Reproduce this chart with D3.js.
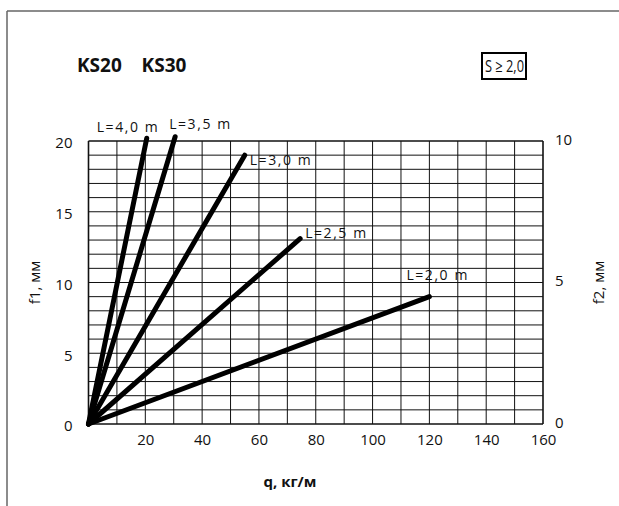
<!DOCTYPE html>
<html><head><meta charset="utf-8">
<script src="https://cdn.jsdelivr.net/npm/d3@7"></script>
<style>
body{margin:0;background:#fff;}
svg{display:block;}
text{font-family:"Open Sans","DejaVu Sans",sans-serif;fill:#111;}
</style></head><body>
<div id="chart"></div>
<script>
// ---- data ----
const seriesNames = ["L=4,0 m","L=3,5 m","L=3,0 m","L=2,5 m","L=2,0 m"];
const seriesEndQ  = [20.5, 30.5, 55, 74.5, 120];   // q, кг/м at line end
const seriesEndF1 = [20.2, 20.3, 19.0, 13.1, 9.0]; // f1, мм at line end
const xTicks  = [20,40,60,80,100,120,140,160];
const y1Ticks = [0,5,10,15,20];
const y2Ticks = [0,5,10];
const title = "KS20    KS30";
const boxLabel = "S \u2265 2,0";

const W = 619, H = 506;
const m = {left:88.5, right:543, top:141, bottom:424};

const svg = d3.select("#chart").append("svg").attr("width",W).attr("height",H);

const x  = d3.scaleLinear().domain([0,160]).range([m.left,m.right]);
const y1 = d3.scaleLinear().domain([0,20]).range([m.bottom,m.top]);
const y2 = d3.scaleLinear().domain([0,10]).range([m.bottom,m.top]);

// outer frame (top & left only)
svg.append("line").attr("x1",7).attr("x2",W).attr("y1",11).attr("y2",11).attr("stroke","#666").attr("stroke-width",1.5);
svg.append("line").attr("x1",7).attr("x2",7).attr("y1",11).attr("y2",H).attr("stroke","#666").attr("stroke-width",1.5);

// grid
const g = svg.append("g");
g.selectAll("line.v").data(d3.range(0,161,10)).join("line")
  .attr("x1",d=>x(d)).attr("x2",d=>x(d)).attr("y1",m.top).attr("y2",m.bottom)
  .attr("stroke","#111").attr("stroke-width",d=>(d===0||d===160)?1.6:1);
g.selectAll("line.h").data(d3.range(0,21,1)).join("line")
  .attr("x1",m.left).attr("x2",m.right).attr("y1",d=>y1(d)).attr("y2",d=>y1(d))
  .attr("stroke","#111").attr("stroke-width",d=>(d===0||d===20)?1.6:1);

// axes labels (ticks)
const xAxis = d3.axisBottom(x).tickValues(xTicks).tickSize(0).tickPadding(10);
const xa = svg.append("g").attr("transform",`translate(0,${m.bottom})`).call(xAxis);
xa.select(".domain").remove();
xa.selectAll("text").attr("font-size",15).attr("font-family","'Open Sans',sans-serif").attr("fill","#111");

const yAxisL = d3.axisLeft(y1).tickValues(y1Ticks).tickSize(0).tickPadding(16);
const yl = svg.append("g").attr("transform",`translate(${m.left},0)`).call(yAxisL);
yl.select(".domain").remove();
yl.selectAll("text").attr("font-size",15).attr("font-family","'Open Sans',sans-serif").attr("fill","#111").attr("dy","0.45em");

const yAxisR = d3.axisRight(y2).tickValues(y2Ticks).tickSize(0).tickPadding(12);
const yr = svg.append("g").attr("transform",`translate(${m.right},0)`).call(yAxisR);
yr.select(".domain").remove();
yr.selectAll("text").attr("font-size",15).attr("font-family","'Open Sans',sans-serif").attr("fill","#111").attr("dy","0.2em");

// series lines
const lineGen = d3.line().x(d=>x(d[0])).y(d=>y1(d[1]));
seriesNames.forEach((n,i)=>{
  svg.append("path").datum([[0,0],[seriesEndQ[i],seriesEndF1[i]]])
    .attr("d",lineGen).attr("fill","none").attr("stroke","#000")
    .attr("stroke-width",5).attr("stroke-linecap","round");
});

// series labels
const lblAnchor = [[-50,-6],[-6,-8],[5,10],[5,-1],[-23,-17]];
seriesNames.forEach((n,i)=>{
  svg.append("text").attr("x",x(seriesEndQ[i])+lblAnchor[i][0]).attr("y",y1(seriesEndF1[i])+lblAnchor[i][1])
    .attr("font-size",14).attr("font-family","'DejaVu Sans',sans-serif")
    .attr("textLength",61).attr("lengthAdjust","spacing").text(n);
});

// titles
svg.append("text").attr("x",77).attr("y",72).attr("font-size",19).attr("font-weight","bold")
  .attr("font-family","'Open Sans',sans-serif").attr("xml:space","preserve").style("white-space","pre").text(title);
svg.append("rect").attr("x",482).attr("y",53).attr("width",44).attr("height",26)
  .attr("fill","none").attr("stroke","#000").attr("stroke-width",2);
svg.append("text").attr("x",485).attr("y",72).attr("font-size",17)
  .attr("textLength",39).attr("lengthAdjust","spacingAndGlyphs")
  .attr("font-family","'Open Sans',sans-serif").text(boxLabel);

svg.append("text").attr("x",290).attr("y",487).attr("text-anchor","middle").attr("font-size",15)
  .attr("font-weight","bold").attr("font-family","'Open Sans',sans-serif").text("q, кг/м");
svg.append("text").attr("transform",`translate(40,${(m.top+m.bottom)/2}) rotate(-90)`)
  .attr("text-anchor","middle").attr("font-size",15).attr("font-family","'Open Sans',sans-serif").text("f1, мм");
svg.append("text").attr("transform",`translate(604,${(m.top+m.bottom)/2}) rotate(-90)`)
  .attr("text-anchor","middle").attr("font-size",15).attr("font-family","'Open Sans',sans-serif").text("f2, мм");
</script>
</body></html>
